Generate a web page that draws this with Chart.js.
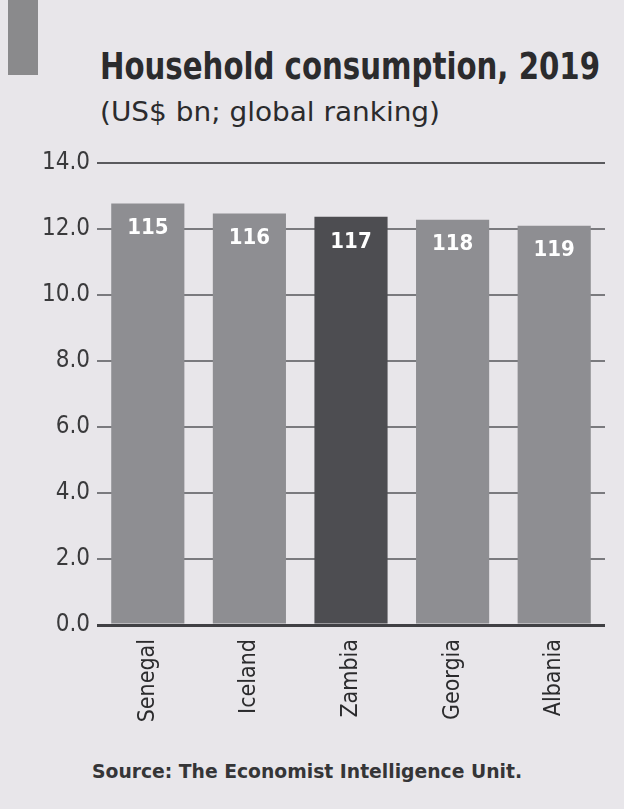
<!DOCTYPE html>
<html>
<head>
<meta charset="utf-8">
<script src="https://cdn.jsdelivr.net/npm/chart.js@4.4.1/dist/chart.umd.min.js"></script>
<style>
  html, body { margin:0; padding:0; background:#e8e6ea; }
  #wrap { position:relative; width:624px; height:809px; overflow:hidden; background:#e8e6ea; }
  #bar { position:absolute; left:8px; top:0; width:30px; height:75px; background:#8a8a8c; }
  .t { position:absolute; white-space:nowrap; color:#2b2b2d; font-family:"Liberation Sans Narrow","DejaVu Sans Condensed","Roboto Condensed",Roboto,sans-serif; transform-origin:0 0; }
  #title { left:100px; top:44px; font-size:38px; font-weight:bold; }
  #sub { left:100px; top:96px; font-size:27px; }
  #src { left:92px; top:759px; font-size:20px; font-weight:bold; color:#353537; }
  #c { position:absolute; left:0; top:0; }
</style>
</head>
<body>
<div id="wrap">
  <div id="bar"></div>
  <div class="t" id="title" data-w="500">Household consumption, 2019</div>
  <div class="t" id="sub" data-w="340">(US$ bn; global ranking)</div>
  <div class="t" id="src" data-w="430">Source: The Economist Intelligence Unit.</div>
  <canvas id="c" width="624" height="809"></canvas>
</div>
<script>
const categories = ["Senegal", "Iceland", "Zambia", "Georgia", "Albania"];
const consumption = [12.77, 12.47, 12.37, 12.28, 12.10];
const rankings = ["115", "116", "117", "118", "119"];
const yTicks = [0, 2, 4, 6, 8, 10, 12, 14];
const highlight = "Zambia";

document.querySelectorAll('.t').forEach(el => {
  const target = +el.dataset.w;
  const w = el.getBoundingClientRect().width;
  el.style.transform = 'scaleX(' + (target / w) + ')';
});

const FONT = '"Liberation Sans Narrow","DejaVu Sans Condensed","Roboto Condensed",Roboto,sans-serif';

const valueLabels = {
  id: 'valueLabels',
  afterDatasetsDraw(chart) {
    const ctx = chart.ctx;
    const meta = chart.getDatasetMeta(0);
    ctx.save();
    ctx.fillStyle = '#ffffff';
    ctx.font = 'bold 22px ' + FONT;
    ctx.textAlign = 'center';
    ctx.textBaseline = 'middle';
    meta.data.forEach((bar, i) => {
      ctx.fillText(rankings[i], bar.x, bar.y + 25);
    });
    ctx.restore();
  }
};

new Chart(document.getElementById('c'), {
  type: 'bar',
  data: {
    labels: categories,
    datasets: [{
      data: consumption,
      backgroundColor: categories.map(c => c === highlight ? '#4d4d51' : '#8e8e92'),
      borderWidth: 0,
      barPercentage: 0.72,
      categoryPercentage: 1.0
    }]
  },
  options: {
    responsive: false,
    animation: false,
    devicePixelRatio: 1,
    layout: { padding: { top: 163, right: 19, bottom: 54, left: 0 } },
    plugins: { legend: { display: false }, tooltip: { enabled: false }, title: { display: false } },
    scales: {
      y: {
        min: 0, max: 14,
        afterBuildTicks(scale) { scale.ticks = yTicks.map(v => ({ value: v })); },
        afterFit(scale) { scale.width = 97; },
        border: { display: false },
        grid: {
          color: ctx => ctx.tick && ctx.tick.value === 14 ? '#5a5a5e' : (ctx.tick && ctx.tick.value === 0 ? '#404044' : '#7a7a7e'),
          lineWidth: ctx => ctx.tick && ctx.tick.value === 0 ? 3 : 2,
          drawTicks: false
        },
        ticks: {
          padding: 7,
          color: '#3a3a3c',
          font: { family: FONT, size: 24 },
          callback: v => Number(v).toFixed(1)
        }
      },
      x: {
        afterFit(scale) { scale.height = 130; },
        border: { display: false },
        grid: { display: false },
        ticks: {
          minRotation: 90, maxRotation: 90,
          padding: 6,
          color: '#2b2b2d',
          font: { family: FONT, size: 23 }
        }
      }
    }
  },
  plugins: [valueLabels]
});
</script>
</body>
</html>
